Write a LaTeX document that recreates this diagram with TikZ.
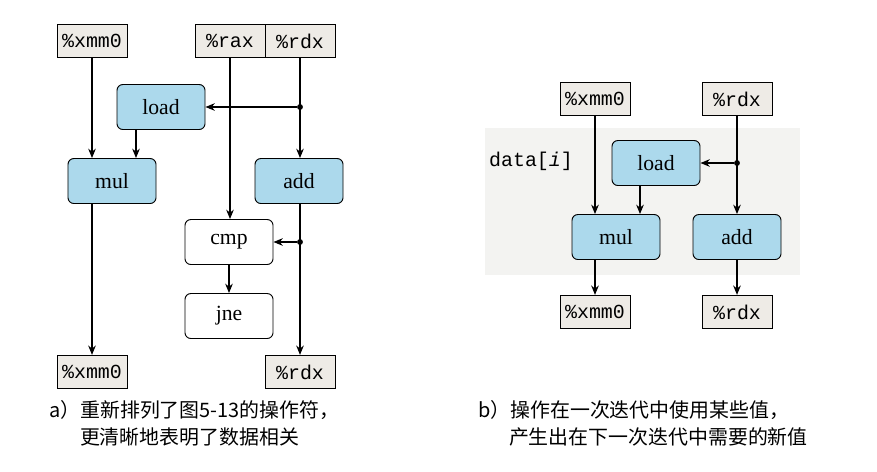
\documentclass[tikz,border=0pt]{standalone}
\usepackage{fontspec}
\setmainfont{Liberation Serif}
\setmonofont{Liberation Mono}
\newfontfamily\cjk{Noto Sans CJK SC}
\usetikzlibrary{arrows.meta}
\definecolor{opblue}{RGB}{172,217,236}
\definecolor{regfill}{RGB}{238,235,230}
\definecolor{bgshade}{RGB}{243,243,241}

\begin{document}
\begin{tikzpicture}[x=0.03cm, y=-0.03cm,
  reg/.style={draw, fill=regfill, line width=0.8pt, minimum width=2.1cm, minimum height=1cm, inner sep=0pt, font=\fontsize{17}{19}\selectfont\ttfamily},
  op/.style={draw, line width=0.8pt, rounded corners=5pt, minimum width=2.64cm, minimum height=1.35cm, inner sep=0pt, font=\fontsize{18.5}{20}\selectfont},
  opc/.style={op, fill=opblue},
  flow/.style={-{Stealth[length=8pt,width=6.5pt]}, line width=1pt},
  junct/.style={circle, fill, inner sep=0pt, minimum size=5pt},
  caption/.style={align=left, anchor=west, font=\cjk\fontsize{17}{23}\selectfont}
]
\useasboundingbox (0,0) rectangle (877,471);

% a) reordered operators
\node[reg] (xmmA) at (92,41) {\%xmm0};
\node[reg] (raxA) at (230,41) {\%rax};
\node[reg] (rdxA) at (300,41) {\%rdx};
\node[opc] (loadA) at (161,107) {load};
\node[opc] (mulA) at (112,181) {mul};
\node[opc] (addA) at (299,181) {add};
\node[op] (cmpA) at (229,242) {cmp};
\node[op] (jneA) at (229,316) {jne};
\node[reg] (xmmA2) at (92,372) {\%xmm0};
\node[reg] (rdxA2) at (300,372) {\%rdx};

\node[junct] (ja) at (rdxA.south |- loadA.east) {};
\node[junct] (jb) at (rdxA.south |- cmpA.east) {};
\coordinate (loA) at ([xshift=-0.75cm]loadA.south);

\draw[flow] (xmmA.south) -- (xmmA.south |- mulA.north);
\draw[flow] (loA) -- (loA |- mulA.north);
\draw[flow] (ja) -- (loadA.east);
\draw[flow] (rdxA.south) -- (rdxA.south |- addA.north);
\draw[flow] (raxA.south) -- (raxA.south |- cmpA.north);
\draw[flow] (jb) -- (cmpA.east);
\draw[flow] (cmpA) -- (jneA);
\draw[flow] (xmmA.south |- mulA.south) -- (xmmA2.north);
\draw[flow] (rdxA.south |- addA.south) -- (rdxA2.north);

\node[caption] (capA) at (45,423) {a）重新排列了图5-13的操作符，\\\hspace*{1.55em}更清晰地表明了数据相关};

% b) values used and produced in one iteration
\fill[bgshade] (485,128) rectangle (800,275);
\node[reg] (xmmB) at (595,99) {\%xmm0};
\node[reg] (rdxB) at (737,99) {\%rdx};
\node[font=\fontsize{17}{19}\selectfont\ttfamily] (dataB) at (531,161) {data[\textit{i}]};
\node[opc] (loadB) at (656,163) {load};
\node[opc] (mulB) at (616,237) {mul};
\node[opc] (addB) at (737,237) {add};
\node[reg] (xmmB2) at (595,312) {\%xmm0};
\node[reg] (rdxB2) at (737,312) {\%rdx};

\node[junct] (jc) at (rdxB.south |- loadB.east) {};
\coordinate (loB) at ([xshift=-0.48cm]loadB.south);

\draw[flow] (xmmB.south) -- (xmmB.south |- mulB.north);
\draw[flow] (loB) -- (loB |- mulB.north);
\draw[flow] (jc) -- (loadB.east);
\draw[flow] (rdxB.south) -- (addB.north);
\draw[flow] (xmmB.south |- mulB.south) -- (xmmB2.north);
\draw[flow] (addB.south) -- (rdxB2.north);

\node[caption] (capB) at (474,423) {b）操作在一次迭代中使用某些值，\\\hspace*{1.55em}产生出在下一次迭代中需要的新值};
\end{tikzpicture}
\end{document}
